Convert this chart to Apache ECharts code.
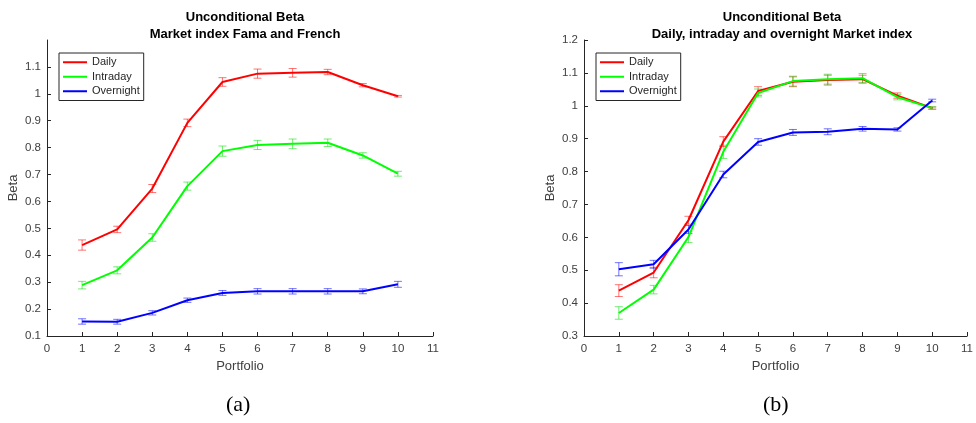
<!DOCTYPE html>
<html>
<head>
<meta charset="utf-8">
<script src="https://cdn.jsdelivr.net/npm/echarts@6/dist/echarts.min.js"></script>
<style>html,body{margin:0;padding:0;background:#fff;}#c{width:976px;height:423px;}</style>
</head>
<body>
<div id="c"></div>
<script>
// ---- data ----
const portfolios = [1, 2, 3, 4, 5, 6, 7, 8, 9, 10];
const seriesNames = ['Daily', 'Intraday', 'Overnight'];
// Panel (a): Market index Fama and French
const aDaily = [0.438, 0.496, 0.648, 0.892, 1.044, 1.075, 1.078, 1.081, 1.032, 0.991];
const aDailyErr = [0.019, 0.012, 0.015, 0.014, 0.016, 0.017, 0.016, 0.010, 0.006, 0.003];
const aIntraday = [0.289, 0.344, 0.466, 0.657, 0.787, 0.810, 0.814, 0.818, 0.771, 0.703];
const aIntradayErr = [0.014, 0.013, 0.014, 0.015, 0.019, 0.017, 0.018, 0.014, 0.010, 0.009];
const aOvernight = [0.154, 0.153, 0.186, 0.233, 0.260, 0.266, 0.266, 0.266, 0.266, 0.292];
const aOvernightErr = [0.010, 0.009, 0.008, 0.008, 0.009, 0.010, 0.010, 0.010, 0.009, 0.011];
// Panel (b): Daily, intraday and overnight Market index
const bDaily = [0.438, 0.493, 0.652, 0.891, 1.045, 1.073, 1.078, 1.081, 1.031, 0.993];
const bDailyErr = [0.018, 0.016, 0.012, 0.015, 0.013, 0.015, 0.015, 0.012, 0.008, 0.003];
const bIntraday = [0.370, 0.441, 0.601, 0.860, 1.039, 1.075, 1.081, 1.084, 1.026, 0.993];
const bIntradayErr = [0.019, 0.013, 0.017, 0.020, 0.012, 0.015, 0.015, 0.014, 0.008, 0.004];
const bOvernight = [0.503, 0.518, 0.624, 0.791, 0.890, 0.919, 0.921, 0.930, 0.928, 1.016];
const bOvernightErr = [0.020, 0.012, 0.012, 0.010, 0.010, 0.009, 0.009, 0.007, 0.005, 0.004];
// tick labels
const xTicks = [0, 1, 2, 3, 4, 5, 6, 7, 8, 9, 10, 11];
const aYTicks = [0.1, 0.2, 0.3, 0.4, 0.5, 0.6, 0.7, 0.8, 0.9, 1.0, 1.1];
const bYTicks = [0.3, 0.4, 0.5, 0.6, 0.7, 0.8, 0.9, 1.0, 1.1, 1.2];
const titlesA = ['Unconditional Beta', 'Market index Fama and French'];
const titlesB = ['Unconditional Beta', 'Daily, intraday and overnight Market index'];
const panelLabels = ['(a)', '(b)'];

const colors = ['#ff0000', '#00ff00', '#0000ff'];
const errColors = ['rgba(255,0,0,0.55)', 'rgba(0,220,0,0.55)', 'rgba(0,0,255,0.55)'];
const FONT = 'Liberation Sans, Arial, Helvetica, sans-serif';
const AX = '#262626';
const LBL = '#404040';

function fmt(v) {
  const r = Math.round(v * 10) / 10;
  return Number.isInteger(r) ? String(r) : r.toFixed(1);
}

function xAxisFor(gi) {
  return {
    type: 'value', gridIndex: gi, min: 0, max: 11, interval: 1,
    name: 'Portfolio', nameLocation: 'middle', nameGap: 23,
    nameTextStyle: { color: LBL, fontSize: 13, fontFamily: FONT },
    axisLine: { lineStyle: { color: AX, width: 1 } },
    axisTick: { inside: true, length: 4, lineStyle: { color: AX } },
    axisLabel: { color: LBL, fontSize: 11.5, fontFamily: FONT, margin: 7,
      customValues: xTicks, formatter: v => String(v) },
    splitLine: { show: false }
  };
}
function yAxisFor(gi, min, max, ticks) {
  return {
    type: 'value', gridIndex: gi, min: min, max: max, interval: 0.1,
    name: 'Beta', nameLocation: 'middle', nameGap: 27,
    nameTextStyle: { color: LBL, fontSize: 13, fontFamily: FONT },
    axisLine: { show: true, lineStyle: { color: AX, width: 1 } },
    axisTick: { show: true, inside: true, length: 4, lineStyle: { color: AX }, customValues: ticks },
    axisLabel: { color: LBL, fontSize: 11.5, fontFamily: FONT, margin: 6,
      customValues: ticks, formatter: v => fmt(v) },
    splitLine: { show: false }
  };
}

function lineSeries(name, data, idx, axisIdx) {
  return {
    type: 'line', name: name, xAxisIndex: axisIdx, yAxisIndex: axisIdx,
    data: portfolios.map((p, i) => [p, data[i]]),
    symbol: 'none', lineStyle: { color: colors[idx], width: 2 },
    itemStyle: { color: colors[idx] }, z: 3, animation: false
  };
}
function errSeries(name, data, err, idx, axisIdx) {
  return {
    type: 'custom', name: name, xAxisIndex: axisIdx, yAxisIndex: axisIdx,
    data: portfolios.map((p, i) => [p, data[i], err[i]]),
    encode: { x: 0, y: 1 },
    renderItem: function (params, api) {
      const x = api.value(0), y = api.value(1), e = api.value(2);
      const top = api.coord([x, y + e]);
      const bot = api.coord([x, y - e]);
      const hw = 4;
      const style = { stroke: errColors[idx], lineWidth: 1, fill: null };
      return {
        type: 'group',
        children: [
          { type: 'line', shape: { x1: top[0], y1: top[1], x2: bot[0], y2: bot[1] }, style: style },
          { type: 'line', shape: { x1: top[0] - hw, y1: top[1], x2: top[0] + hw, y2: top[1] }, style: style },
          { type: 'line', shape: { x1: bot[0] - hw, y1: bot[1], x2: bot[0] + hw, y2: bot[1] }, style: style }
        ]
      };
    },
    z: 2, animation: false, silent: true
  };
}

function legendFor(left) {
  return {
    data: seriesNames.map(n => ({ name: n, icon: 'rect' })),
    orient: 'vertical', left: left, top: 53,
    itemWidth: 24, itemHeight: 2, itemGap: 0,
    padding: [2, 4, 2, 4],
    borderColor: AX, borderWidth: 1, backgroundColor: '#fff',
    textStyle: { fontSize: 11, fontFamily: FONT, color: '#262626', lineHeight: 14.5 },
    selectedMode: false
  };
}

const chart = echarts.init(document.getElementById('c'), null, { renderer: 'canvas' });
chart.setOption({
  animation: false,
  backgroundColor: '#fff',
  color: colors,
  title: [
    { text: titlesA.join('\n'), left: 240, top: 4, textAlign: 'center',
      textStyle: { fontSize: 13, fontWeight: 'bold', fontFamily: FONT, color: '#000', lineHeight: 17 } },
    { text: titlesB.join('\n'), left: 777, top: 4, textAlign: 'center',
      textStyle: { fontSize: 13, fontWeight: 'bold', fontFamily: FONT, color: '#000', lineHeight: 17 } }
  ],
  legend: [legendFor(59), legendFor(596)],
  grid: [
    { left: 47, right: 543, top: 40, bottom: 87, containLabel: false },
    { left: 584, right: 5, top: 40, bottom: 87, containLabel: false }
  ],
  xAxis: [xAxisFor(0), xAxisFor(1)],
  yAxis: [yAxisFor(0, 0.1, 1.2, aYTicks), yAxisFor(1, 0.3, 1.2, bYTicks)],
  series: [
    errSeries('Daily', aDaily, aDailyErr, 0, 0),
    errSeries('Intraday', aIntraday, aIntradayErr, 1, 0),
    errSeries('Overnight', aOvernight, aOvernightErr, 2, 0),
    lineSeries('Daily', aDaily, 0, 0),
    lineSeries('Intraday', aIntraday, 1, 0),
    lineSeries('Overnight', aOvernight, 2, 0),
    errSeries('Daily', bDaily, bDailyErr, 0, 1),
    errSeries('Intraday', bIntraday, bIntradayErr, 1, 1),
    errSeries('Overnight', bOvernight, bOvernightErr, 2, 1),
    lineSeries('Daily', bDaily, 0, 1),
    lineSeries('Intraday', bIntraday, 1, 1),
    lineSeries('Overnight', bOvernight, 2, 1)
  ],
  graphic: [
    { type: 'text', left: 226, top: 394, style: { text: panelLabels[0], font: '22px "Liberation Serif", "Times New Roman", serif', fill: '#000', textAlign: 'center' } },
    { type: 'text', left: 763, top: 394, style: { text: panelLabels[1], font: '22px "Liberation Serif", "Times New Roman", serif', fill: '#000', textAlign: 'center' } }
  ]
});
</script>
</body>
</html>
